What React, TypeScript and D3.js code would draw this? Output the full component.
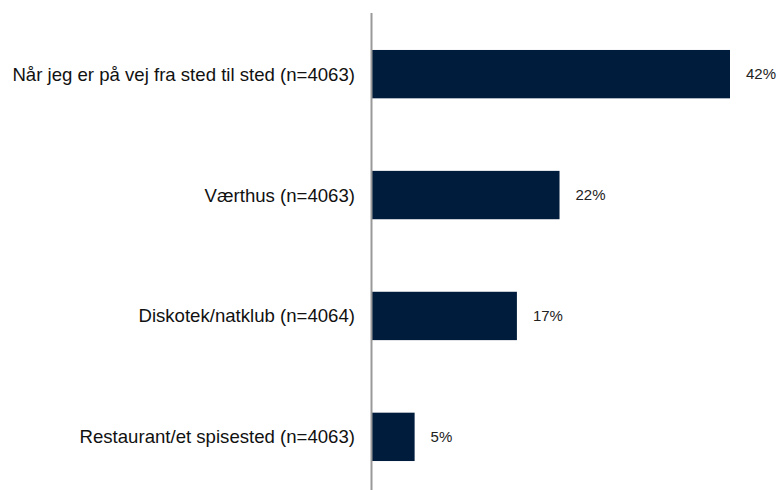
import React, { useEffect, useRef } from "react";
import * as d3 from "d3";

const categories: string[] = [
  "Når jeg er på vej fra sted til sted (n=4063)",
  "Værthus (n=4063)",
  "Diskotek/natklub (n=4064)",
  "Restaurant/et spisested (n=4063)",
];
const values: number[] = [42, 22, 17, 5];

export default function App() {
  const svgRef = useRef<SVGSVGElement>(null);

  useEffect(() => {
    const width = 779;
    const height = 490;
    const axisX = 372;

    const svg = d3.select(svgRef.current);
    svg.selectAll("*").remove();
    svg.attr("viewBox", `0 0 ${width} ${height}`);

    const xScale = d3.scaleLinear().domain([0, 42]).range([axisX, 730]);
    const yScale = d3
      .scaleBand<string>()
      .domain(categories)
      .range([13.7, 497.3])
      .paddingInner(0.6)
      .paddingOuter(0.3);

    const data = categories.map((c, i) => ({ c, v: values[i] }));

    svg
      .selectAll("rect.bar")
      .data(data)
      .enter()
      .append("rect")
      .attr("class", "bar")
      .attr("x", xScale(0))
      .attr("y", (d) => yScale(d.c)!)
      .attr("width", (d) => xScale(d.v) - xScale(0))
      .attr("height", yScale.bandwidth())
      .attr("fill", "#001c3d");

    // value labels
    svg
      .selectAll("text.val")
      .data(data)
      .enter()
      .append("text")
      .attr("class", "val")
      .attr("x", (d) => xScale(d.v) + 16)
      .attr("y", (d) => yScale(d.c)! + yScale.bandwidth() / 2)
      .attr("dy", "0.35em")
      .attr("font-family", "Liberation Sans, Arial, sans-serif")
      .attr("font-size", 15)
      .attr("fill", "#222")
      .text((d) => `${d.v}%`);

    // category labels
    svg
      .selectAll("text.cat")
      .data(data)
      .enter()
      .append("text")
      .attr("class", "cat")
      .attr("x", 355)
      .attr("y", (d) => yScale(d.c)! + yScale.bandwidth() / 2)
      .attr("dy", "0.35em")
      .attr("text-anchor", "end")
      .attr("font-family", "Liberation Sans, Arial, sans-serif")
      .attr("font-size", 18.6)
      .attr("fill", "#111")
      .text((d) => d.c);

    // vertical axis line
    svg
      .append("line")
      .attr("x1", axisX - 0.5)
      .attr("x2", axisX - 0.5)
      .attr("y1", 13)
      .attr("y2", 490)
      .attr("stroke", "#999")
      .attr("stroke-width", 2);
  }, []);

  return (
    <svg
      ref={svgRef}
      width={779}
      height={490}
      style={{ position: "absolute", left: 0, top: 0, background: "#fff" }}
    ></svg>
  );
}
